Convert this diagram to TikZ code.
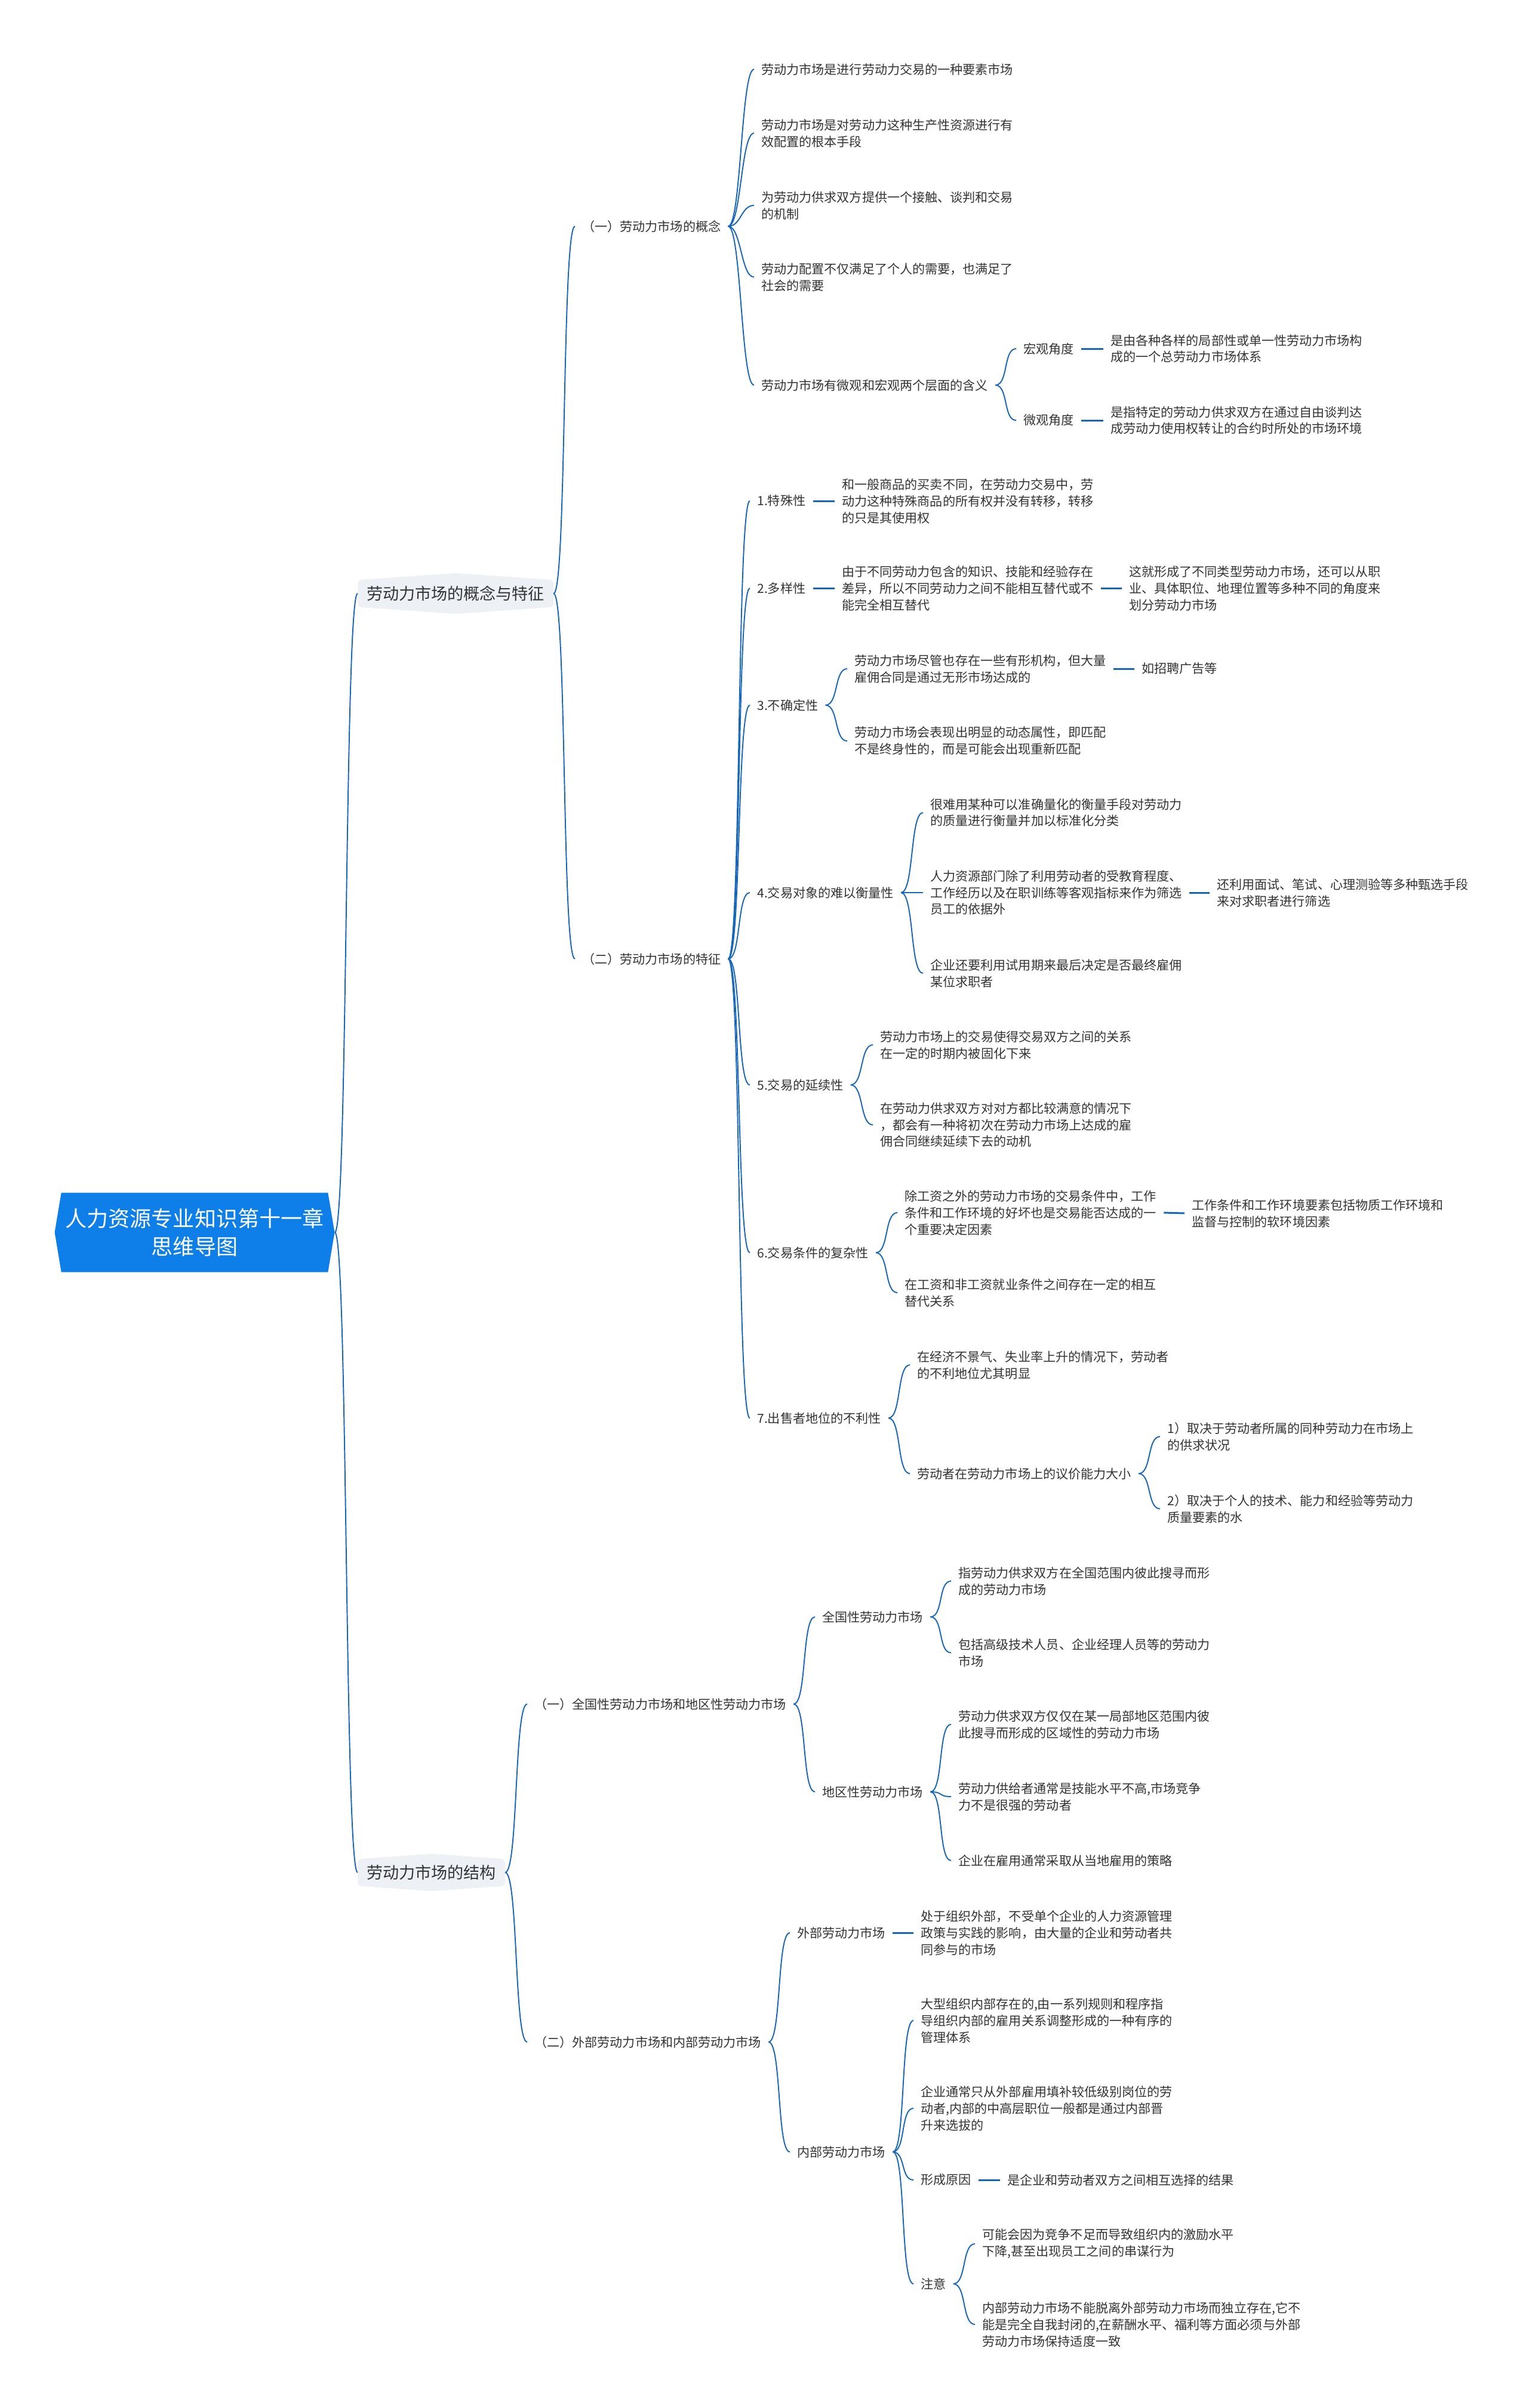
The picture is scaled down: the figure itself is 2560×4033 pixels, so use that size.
\documentclass[tikz,border=0pt]{standalone}
\usepackage{fontspec}
\setmainfont{Noto Sans CJK SC}
\usetikzlibrary{shapes.symbols}

\definecolor{linkblue}{RGB}{22,102,186}
\definecolor{rootblue}{RGB}{14,127,232}
\definecolor{mainfill}{RGB}{237,241,245}
\definecolor{ink}{RGB}{51,51,51}

\begin{document}
\begin{tikzpicture}[
    x=0.02cm, y=-0.02cm,
    % --- STYLES ---
    rootbox/.style={shape=signal, signal to=west and east, signal pointer angle=161, fill=rootblue, text=white, align=center, minimum width=9.38cm, minimum height=2.66cm, inner sep=0pt, font=\fontsize{20.5}{26.7}\selectfont},
    mainbox/.style={shape=signal, signal to=north and south, signal pointer angle=172, fill=mainfill, rounded corners=3pt, anchor=west, inner xsep=0.3cm, inner ysep=0.2cm, text=ink, font=\fontsize{15.4}{20}\selectfont},
    item/.style={anchor=west, xshift=-0.24cm, inner xsep=0.24cm, inner ysep=2pt, align=left, text=ink, font=\fontsize{12}{15.9}\selectfont},
    branch/.style={draw=linkblue, line width=1.1pt},
    stub/.style={draw=linkblue, line width=1.7pt}
]
    \useasboundingbox (0,0) rectangle (2560,4033);
    \fill[white] (0,0) rectangle (2560,4033);

    % ==========================================
    % ROOT AND MAIN TOPICS
    % ==========================================
    \node[rootbox] (root) at (326,2064) {人力资源专业知识第十一章\\思维导图};
    \node[mainbox] (concept) at (599,994) {劳动力市场的概念与特征};
    \node[mainbox] (structure) at (599,3136) {劳动力市场的结构};

    % ==========================================
    % CONCEPT (top half)
    % ==========================================
    \node[item] (defn) at (975,379) {（一）劳动力市场的概念};
    \node[item] (d1) at (1275,116) {劳动力市场是进行劳动力交易的一种要素市场};
    \node[item] (d2) at (1275,223) {劳动力市场是对劳动力这种生产性资源进行有\\效配置的根本手段};
    \node[item] (d3) at (1275,344) {为劳动力供求双方提供一个接触、谈判和交易\\的机制};
    \node[item] (d4) at (1275,464) {劳动力配置不仅满足了个人的需要，也满足了\\社会的需要};
    \node[item] (d5) at (1275,645) {劳动力市场有微观和宏观两个层面的含义};
    \node[item] (macro) at (1714,584) {宏观角度};
    \node[item] (macroT) at (1860,584) {是由各种各样的局部性或单一性劳动力市场构\\成的一个总劳动力市场体系};
    \node[item] (micro) at (1714,704) {微观角度};
    \node[item] (microT) at (1860,704) {是指特定的劳动力供求双方在通过自由谈判达\\成劳动力使用权转让的合约时所处的市场环境};

    % 2. Traits
    \node[item] (traits) at (975,1606) {（二）劳动力市场的特征};
    \node[item] (t1) at (1268,839) {1.特殊性};
    \node[item] (t1a) at (1410,839) {和一般商品的买卖不同，在劳动力交易中，劳\\动力这种特殊商品的所有权并没有转移，转移\\的只是其使用权};
    \node[item] (t2) at (1268,985) {2.多样性};
    \node[item] (t2a) at (1410,985) {由于不同劳动力包含的知识、技能和经验存在\\差异，所以不同劳动力之间不能相互替代或不\\能完全相互替代};
    \node[item] (t2b) at (1891,985) {这就形成了不同类型劳动力市场，还可以从职\\业、具体职位、地理位置等多种不同的角度来\\划分劳动力市场};
    \node[item] (t3) at (1268,1181) {3.不确定性};
    \node[item] (t3a) at (1431,1120) {劳动力市场尽管也存在一些有形机构，但大量\\雇佣合同是通过无形市场达成的};
    \node[item] (t3aa) at (1912,1120) {如招聘广告等};
    \node[item] (t3b) at (1431,1241) {劳动力市场会表现出明显的动态属性，即匹配\\不是终身性的，而是可能会出现重新匹配};
    \node[item] (t4) at (1268,1495) {4.交易对象的难以衡量性};
    \node[item] (t4a) at (1558,1361) {很难用某种可以准确量化的衡量手段对劳动力\\的质量进行衡量并加以标准化分类};
    \node[item] (t4b) at (1558,1495) {人力资源部门除了利用劳动者的受教育程度、\\工作经历以及在职训练等客观指标来作为筛选\\员工的依据外};
    \node[item] (t4bb) at (2038,1495) {还利用面试、笔试、心理测验等多种甄选手段\\来对求职者进行筛选};
    \node[item] (t4c) at (1558,1630) {企业还要利用试用期来最后决定是否最终雇佣\\某位求职者};
    \node[item] (t5) at (1268,1817) {5.交易的延续性};
    \node[item] (t5a) at (1474,1750) {劳动力市场上的交易使得交易双方之间的关系\\在一定的时期内被固化下来};
    \node[item] (t5b) at (1474,1884) {在劳动力供求双方对对方都比较满意的情况下\\，都会有一种将初次在劳动力市场上达成的雇\\佣合同继续延续下去的动机};
    \node[item] (t6) at (1268,2098) {6.交易条件的复杂性};
    \node[item] (t6a) at (1515,2031) {除工资之外的劳动力市场的交易条件中，工作\\条件和工作环境的好坏也是交易能否达成的一\\个重要决定因素};
    \node[item] (t6aa) at (1996,2032) {工作条件和工作环境要素包括物质工作环境和\\监督与控制的软环境因素};
    \node[item] (t6b) at (1515,2165) {在工资和非工资就业条件之间存在一定的相互\\替代关系};
    \node[item] (t7) at (1268,2375) {7.出售者地位的不利性};
    \node[item] (t7a) at (1536,2286) {在经济不景气、失业率上升的情况下，劳动者\\的不利地位尤其明显};
    \node[item] (t7b) at (1536,2468) {劳动者在劳动力市场上的议价能力大小};
    \node[item] (t7b1) at (1955,2406) {1）取决于劳动者所属的同种劳动力在市场上\\的供求状况};
    \node[item] (t7b2) at (1955,2527) {2）取决于个人的技术、能力和经验等劳动力\\质量要素的水};

    % ==========================================
    % STRUCTURE (bottom part)
    % ==========================================
    \node[item] (scope) at (895,2854) {（一）全国性劳动力市场和地区性劳动力市场};
    \node[item] (nat) at (1377,2708) {全国性劳动力市场};
    \node[item] (nat1) at (1605,2648) {指劳动力供求双方在全国范围内彼此搜寻而形\\成的劳动力市场};
    \node[item] (nat2) at (1605,2768) {包括高级技术人员、企业经理人员等的劳动力\\市场};
    \node[item] (reg) at (1377,3001) {地区性劳动力市场};
    \node[item] (reg1) at (1605,2888) {劳动力供求双方仅仅在某一局部地区范围内彼\\此搜寻而形成的区域性的劳动力市场};
    \node[item] (reg2) at (1605,3009) {劳动力供给者通常是技能水平不高,市场竞争\\力不是很强的劳动者};
    \node[item] (reg3) at (1605,3116) {企业在雇用通常采取从当地雇用的策略};

    \node[item] (inout) at (895,3420) {（二）外部劳动力市场和内部劳动力市场};
    \node[item] (ext) at (1335,3237) {外部劳动力市场};
    \node[item] (extT) at (1542,3237) {处于组织外部，不受单个企业的人力资源管理\\政策与实践的影响，由大量的企业和劳动者共\\同参与的市场};
    \node[item] (inner) at (1335,3604) {内部劳动力市场};
    \node[item] (inner1) at (1542,3384) {大型组织内部存在的,由一系列规则和程序指\\导组织内部的雇用关系调整形成的一种有序的\\管理体系};
    \node[item] (inner2) at (1542,3531) {企业通常只从外部雇用填补较低级别岗位的劳\\动者,内部的中高层职位一般都是通过内部晋\\升来选拔的};
    \node[item] (cause) at (1542,3651) {形成原因};
    \node[item] (causeT) at (1687,3651) {是企业和劳动者双方之间相互选择的结果};
    \node[item] (note) at (1542,3825) {注意};
    \node[item] (note1) at (1645,3758) {可能会因为竞争不足而导致组织内的激励水平\\下降,甚至出现员工之间的串谋行为};
    \node[item] (note2) at (1645,3893) {内部劳动力市场不能脱离外部劳动力市场而独立存在,它不\\能是完全自我封闭的,在薪酬水平、福利等方面必须与外部\\劳动力市场保持适度一致};

    % ==========================================
    % CONNECTORS
    % ==========================================
    % curved branches: parent east -> child west
    \foreach \p/\c in {root/concept, root/structure,
        concept/defn, concept/traits,
        defn/d1, defn/d2, defn/d3, defn/d4, defn/d5, d5/macro, d5/micro,
        traits/t1, traits/t2, traits/t3, traits/t4, traits/t5, traits/t6, traits/t7,
        t3/t3a, t3/t3b, t4/t4a, t4/t4b, t4/t4c, t5/t5a, t5/t5b,
        t6/t6a, t6/t6b, t7/t7a, t7/t7b, t7b/t7b1, t7b/t7b2,
        structure/scope, structure/inout,
        scope/nat, scope/reg, nat/nat1, nat/nat2, reg/reg1, reg/reg2, reg/reg3,
        inout/ext, inout/inner, inner/inner1, inner/inner2, inner/cause, inner/note,
        note/note1, note/note2}
        \draw[branch] (\p.east) .. controls +(22,0) and +(-22,0) .. (\c.west);

    % single child: short straight stub
    \foreach \p/\c in {macro/macroT, micro/microT, t1/t1a, t2/t2a, t2a/t2b,
        t3a/t3aa, t4b/t4bb, t6a/t6aa, ext/extT, cause/causeT}
        \draw[stub] (\p.east) -- (\c.west);

\end{tikzpicture}
\end{document}
